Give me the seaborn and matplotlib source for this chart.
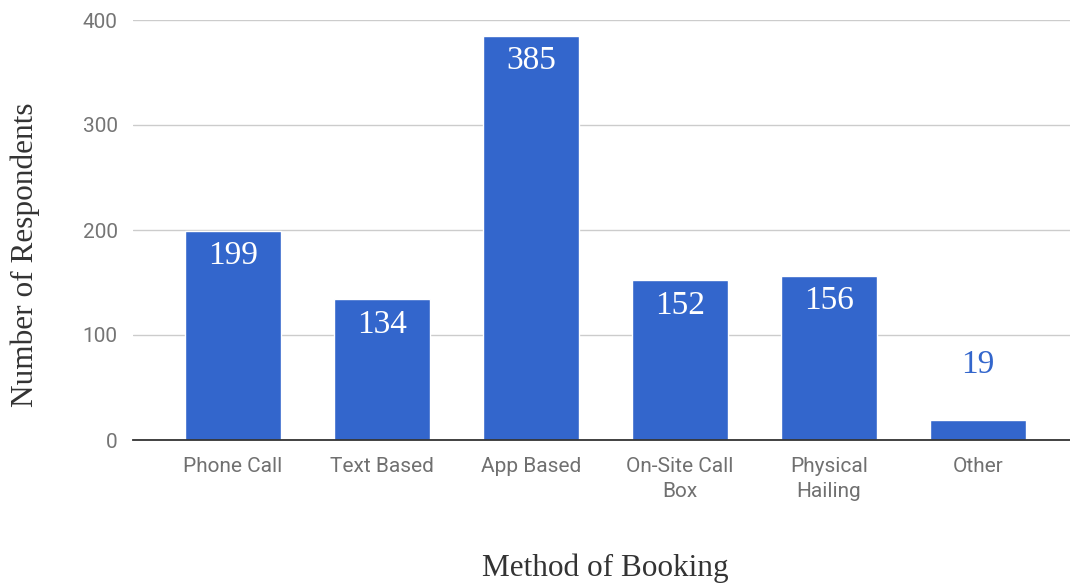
import matplotlib
matplotlib.use("Agg")
import matplotlib.pyplot as plt
import seaborn as sns
import pandas as pd

categories = ["Phone Call", "Text Based", "App Based", "On-Site Call\nBox", "Physical\nHailing", "Other"]
values = [199, 134, 385, 152, 156, 19]
yticks = [0, 100, 200, 300, 400]

sns.set_theme(style="white")
plt.rcParams['font.family'] = ['Roboto', 'DejaVu Sans']

df = pd.DataFrame({"method": categories, "count": values})

W, H = 1070, 586
fig = plt.figure(figsize=(W/100, H/100), dpi=100)
ax = fig.add_axes([133/W, 1-440/H, (1070-133)/W, 420/H])

sns.barplot(data=df, x="method", y="count", color="#3366CC", saturation=1, width=0.645, ax=ax)

ax.set_xlim(-0.671, 5.617)
ax.set_ylim(0, 400)
ax.set_yticks(yticks)
ax.yaxis.grid(True, color="#cccccc", linewidth=1)
ax.set_axisbelow(True)
for s in ["top", "right", "left"]:
    ax.spines[s].set_visible(False)
ax.spines["bottom"].set_color("#333333")
ax.spines["bottom"].set_linewidth(1.3)
ax.tick_params(axis="both", length=0, colors="#757575", labelsize=15)
ax.tick_params(axis="x", pad=12.5)
ax.tick_params(axis="y", pad=11)
for t in ax.get_xticklabels():
    t.set_color("#707070")
    t.set_linespacing(1.4)
ax.set_xlabel("")
ax.set_ylabel("")

for i, v in enumerate(values):
    if v > 40:
        ax.annotate(str(v), (i, v), xytext=(0, -7), textcoords="offset points",
                    ha="center", va="top", color="white", fontsize=24,
                    family=["Liberation Serif"])
    else:
        ax.annotate(str(v), (i, v), xytext=(0, 29), textcoords="offset points",
                    ha="center", va="bottom", color="#3366CC", fontsize=24,
                    family=["Liberation Serif"])

fig.text(25/W, 1-255/H, "Number of Respondents", rotation=90, ha="center", va="center",
         fontsize=22.5, color="#333333", family=["Liberation Serif"])
fig.text(605/W, 1-568/H, "Method of Booking", ha="center", va="center",
         fontsize=22.5, color="#333333", family=["Liberation Serif"])

fig.savefig("out.png", dpi=100)
